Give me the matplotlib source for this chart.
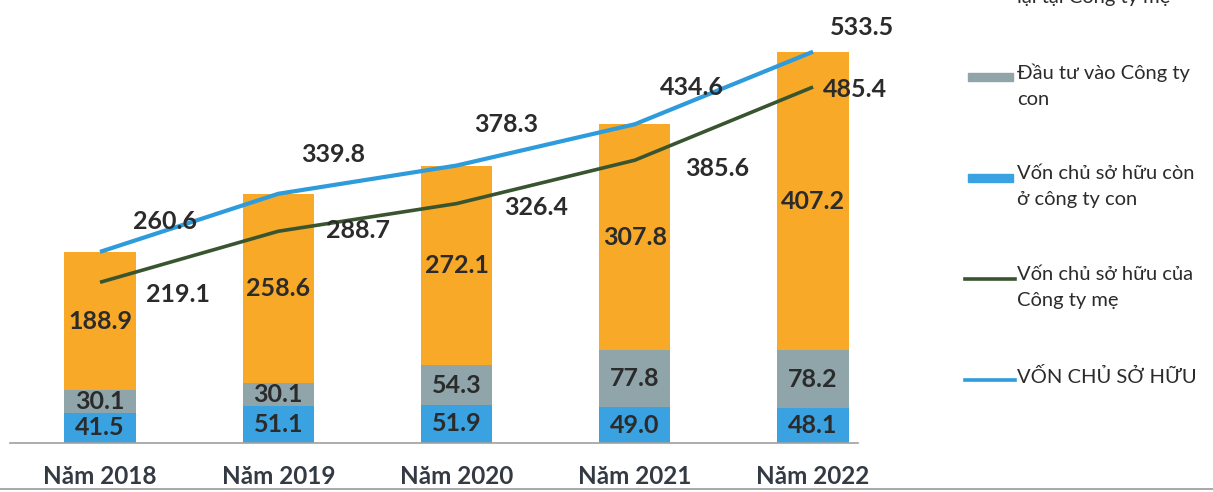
import matplotlib.pyplot as plt
from matplotlib.lines import Line2D
from matplotlib.patches import Rectangle
import numpy as np

plt.rcParams['font.family'] = ['Lato', 'Noto Sans', 'DejaVu Sans']

# Data (nghìn tỷ đồng)
years = ['Năm 2018', 'Năm 2019', 'Năm 2020', 'Năm 2021', 'Năm 2022']
von_con = [41.5, 51.1, 51.9, 49.0, 48.1]            # Vốn chủ sở hữu còn ở công ty con
dau_tu_con = [30.1, 30.1, 54.3, 77.8, 78.2]          # Đầu tư vào Công ty con
con_lai_me = [188.9, 258.6, 272.1, 307.8, 407.2]     # Vốn CSH còn lại tại Công ty mẹ
von_me = [219.1, 288.7, 326.4, 385.6, 485.4]         # Vốn chủ sở hữu của Công ty mẹ
von_tong = [260.6, 339.8, 378.3, 434.6, 533.5]       # VỐN CHỦ SỞ HỮU

c_orange = '#F8A927'
c_gray = '#8FA5AA'
c_blue = '#3AA2E0'
c_line_blue = '#2E9BDC'
c_green = '#38552F'
c_text = '#2B2B2B'

fig = plt.figure(figsize=(12.13, 4.92), dpi=100)
ax = fig.add_axes([10 / 1213, 49 / 492, 848 / 1213, 443 / 492])

x = np.arange(len(years))
w = 0.40
b1 = np.array(von_con)
b2 = b1 + np.array(dau_tu_con)
ax.bar(x, von_con, w, color=c_blue)
ax.bar(x, dau_tu_con, w, bottom=b1, color=c_gray)
ax.bar(x, con_lai_me, w, bottom=b2, color=c_orange)

lab = dict(fontsize=18, fontweight='bold', color=c_text, ha='center', va='center')
for i in range(len(years)):
    ax.text(x[i], von_con[i] / 2, f'{von_con[i]:.1f}', **lab)
    ax.text(x[i], b1[i] + dau_tu_con[i] / 2, f'{dau_tu_con[i]:.1f}', **lab)
    ax.text(x[i], b2[i] + con_lai_me[i] / 2, f'{con_lai_me[i]:.1f}', **lab)

ax.plot(x, von_me, color=c_green, lw=2.6, solid_capstyle='butt', zorder=3)
ax.plot(x, von_tong, color=c_line_blue, lw=3, solid_capstyle='butt', zorder=3)

tong_off = [(65, 30), (55, 39), (50, 41), (57, 37), (49, 24)]
me_off = [(78, -12), (80, 1), (80, -4), (82, -8), (42, -3)]
for i in range(len(years)):
    ax.annotate(f'{von_tong[i]:.1f}', (x[i], von_tong[i]), xytext=tong_off[i],
                textcoords='offset pixels', **lab)
    ax.annotate(f'{von_me[i]:.1f}', (x[i], von_me[i]), xytext=me_off[i],
                textcoords='offset pixels', **lab)

ax.set_xlim(-0.505, 4.252)
ax.set_ylim(0, 604)
ax.set_yticks([])
ax.set_xticks(x)
ax.set_xticklabels(years, fontsize=17.5, fontweight='bold', color='#333A44')
ax.tick_params(axis='x', length=0, pad=16)
for s in ['top', 'right', 'left']:
    ax.spines[s].set_visible(False)
ax.spines['bottom'].set_color('#A0A0A0')
ax.spines['bottom'].set_linewidth(1.2)

# bottom rule of the page
fig.add_artist(Line2D([0, 1], [3 / 492, 3 / 492], color='#9A9A9A', lw=1.2))

# legend, drawn Excel-style (handle aligned with first text line);
# the first entry sits partly above the cropped top edge, as in the source
leg_items = [
    ('patch', c_orange, 'Vốn chủ sở hữu còn\nlại tại Công ty mẹ'),
    ('patch', c_gray, 'Đầu tư vào Công ty\ncon'),
    ('patch', c_blue, 'Vốn chủ sở hữu còn\nở công ty con'),
    ('line', c_green, 'Vốn chủ sở hữu của\nCông ty mẹ'),
    ('line', c_line_blue, 'VỐN CHỦ SỞ HỮU'),
]
y0 = -24
for k, (kind, col, txt) in enumerate(leg_items):
    yp = y0 + k * 101
    yf = 1 - yp / 492
    if kind == 'patch':
        fig.add_artist(Rectangle((968 / 1213, yf - 4 / 492), 45 / 1213, 8 / 492,
                                 color=col, transform=fig.transFigure))
    else:
        fig.add_artist(Line2D([965 / 1213, 1015 / 1213], [yf, yf], color=col, lw=2.6))
    fig.text(1017 / 1213, 1 - (yp - 13) / 492, txt, fontsize=14.5, color=c_text,
             ha='left', va='top', linespacing=1.63)

fig.savefig('out.png', dpi=100)
